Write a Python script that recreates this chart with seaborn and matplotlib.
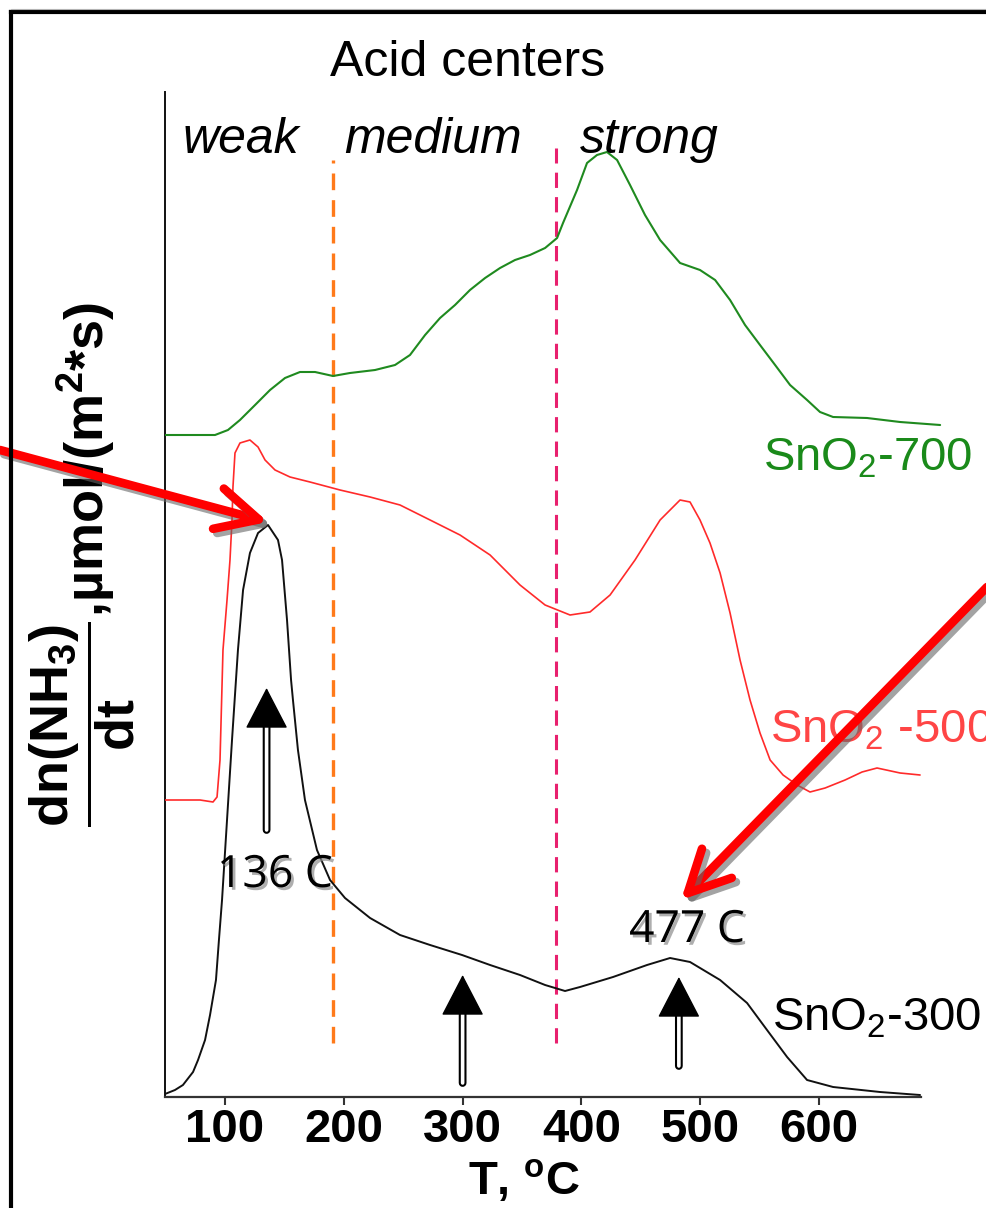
import numpy as np
import pandas as pd
import matplotlib
matplotlib.use("Agg")
import matplotlib.pyplot as plt
import seaborn as sns
from matplotlib import patheffects as pe
from matplotlib.lines import Line2D

# ---------------- data ----------------
# SnO2-300 (black)
t300 = [49.5, 57.9, 64.6, 73.1, 77.3, 83.2, 87.4, 92.4, 94.9, 97.5, 101.7, 105.9, 110.9,
        115.2, 121.0, 127.8, 136.2, 144.6, 148.0, 152.2, 155.6, 157.2, 161.4, 167.3, 177.4,
        188.4, 201.0, 222.1, 247.3, 272.6, 299.5, 323.1, 348.3, 369.4, 386.2, 398.8, 426.6,
        455.2, 474.6, 491.4, 516.7, 539.4, 556.2, 573.1, 589.9, 611.8, 651.3, 685.0]
s300 = [3, 7, 12, 25, 37, 57, 82, 117, 157, 197, 277, 357, 447,
        507, 544, 564, 572, 557, 537, 477, 417, 397, 347, 297, 247,
        217, 199, 179, 162, 152, 142, 132, 122, 112, 106, 110, 120,
        132, 139, 135, 117, 94, 67, 40, 17, 10, 5, 2]

# SnO2-500 (red)
t500 = [49.5, 79.0, 89.9, 93.3, 95.8, 98.3, 101.7, 104.2, 105.9, 106.7, 108.4, 112.6, 121.0,
        127.8, 133.7, 142.1, 154.7, 171.5, 196.8, 222.1, 247.3, 272.6, 297.8, 323.1, 348.3,
        369.4, 390.4, 407.2, 424.1, 445.1, 466.2, 483.0, 491.4, 499.8, 508.2, 516.7, 525.1,
        533.5, 541.9, 550.3, 558.8, 569.7, 581.5, 592.4, 605.1, 621.9, 636.2, 648.8, 668.2, 685.0]
s500 = [297, 297, 295, 300, 337, 447, 497, 537, 577, 610, 644, 654, 657,
        650, 637, 627, 620, 615, 607, 600, 592, 577, 562, 542, 512,
        492, 482, 485, 502, 537, 577, 597, 595, 577, 554, 524, 484,
        437, 397, 364, 337, 322, 312, 305, 309, 317, 325, 329, 324, 322]

# SnO2-700 (green)
t700 = [49.5, 91.6, 102.5, 112.6, 125.3, 137.9, 150.5, 163.1, 175.8, 190.9, 205.2, 226.3,
        243.1, 255.7, 268.4, 281.0, 293.6, 306.2, 318.9, 331.5, 344.1, 356.7, 369.4, 379.5,
        384.5, 396.3, 404.7, 413.1, 421.5, 430.0, 440.9, 453.5, 466.2, 483.0, 499.8, 512.5,
        525.1, 537.7, 550.3, 563.0, 575.6, 589.9, 600.8, 611.8, 640.4, 668.2, 701.9]
s700 = [662, 662, 667, 677, 692, 707, 719, 725, 725, 721, 724, 727,
        732, 742, 762, 779, 792, 807, 819, 829, 837, 842, 849, 859,
        874, 907, 934, 942, 945, 937, 912, 882, 857, 834, 827, 817,
        797, 772, 752, 732, 712, 697, 685, 680, 679, 675, 672]

sample_names = ["SnO2-300", "SnO2-500", "SnO2-700"]
sample_labels = ["SnO$_2$-300", "SnO$_2$ -500", "SnO$_2$-700"]
label_T = [560.5, 558.8, 552.9]
label_y = [67, 354, 627]

x_ticks = [100, 200, 300, 400, 500, 600]

region_names = ["weak", "medium", "strong"]
region_T = [113.5, 275.0, 457.0]
region_y = 944

boundary_T = [191, 379]
boundary_ymin = [54, 54]
boundary_ymax = [937, 949]

peak_labels = ["136 C", "477 C"]
peak_label_T = [93.3, 440.1]
peak_label_y = [210, 155]

arrow_T = [135.0, 300.0, 482.0]
arrow_tail = [267, 14, 31]
arrow_tip = [409, 122, 120]

red_arrow_tip_T = [136.2, 483.8]
red_arrow_tip_y = [575, 197]

# ---------------- style ----------------
sns.set_theme(style="ticks")
plt.rcParams["font.family"] = ["Liberation Sans", "DejaVu Sans"]
plt.rcParams["mathtext.default"] = "regular"
plt.rcParams["text.color"] = "black"
plt.rcParams["axes.labelcolor"] = "black"
plt.rcParams["xtick.color"] = "black"

fig = plt.figure(figsize=(9.87, 12.08), dpi=100)
fig.patch.set_facecolor("white")
ax = fig.add_axes([165 / 987, 111 / 1208, 780 / 987, 1005 / 1208])
ax.set_facecolor("white")

frames = []
for name, t, s in zip(sample_names, [t300, t500, t700], [s300, s500, s700]):
    frames.append(pd.DataFrame({"T": t, "signal": s, "sample": name}))
df = pd.concat(frames, ignore_index=True)

line_colors = {"SnO2-300": "#111111", "SnO2-500": "#ff2a2a", "SnO2-700": "#1f8a1f"}
line_widths = {"SnO2-300": 1.4, "SnO2-500": 1.2, "SnO2-700": 1.5}
label_colors = ["#000000", "#ff4545", "#1a8a1a"]

# dashed boundaries
ax.vlines(boundary_T[0], boundary_ymin[0], boundary_ymax[0], colors="#ff7a1a",
          linestyles=(0, (5, 3)), lw=2.4, zorder=1)
ax.vlines(boundary_T[1], boundary_ymin[1], boundary_ymax[1], colors="#e8206e",
          linestyles=(0, (5, 3)), lw=2.2, zorder=1)

for name in sample_names:
    sns.lineplot(data=df[df["sample"] == name], x="T", y="signal", color=line_colors[name],
                 lw=line_widths[name], ax=ax, estimator=None, sort=False, legend=False, zorder=3)

ax.set_xlim(49.5, 706)
ax.set_ylim(0, 1005)
ax.set_yticks([])
ax.set_xticks(x_ticks)
ax.set_xticklabels([str(v) for v in x_ticks], fontsize=34, fontweight="bold")
ax.tick_params(axis="x", direction="out", length=6, width=1.5, color="#333333",
               labelcolor="black", pad=2)
for side in ["top", "right"]:
    ax.spines[side].set_visible(False)
ax.spines["left"].set_color("#111111")
ax.spines["left"].set_linewidth(1.4)
ax.spines["bottom"].set_color("#333333")
ax.spines["bottom"].set_linewidth(1.6)
ax.spines["bottom"].set_bounds(49.5, 686)

ax.set_xlabel(r"T, $^o$C", fontsize=34, fontweight="bold", color="black")
ax.xaxis.set_label_coords(0.46, -0.0975)
ax.xaxis.label.set_va("baseline")

ax.set_ylabel(r"$\dfrac{dn(NH_3)}{dt}$,µmol/(m$^2$*s)", fontsize=39, fontweight="bold",
              color="black")
ax.yaxis.set_label_coords(-0.107, 0.53)
ax.yaxis.label.set_va("center")

ax.text(0.388, 1.016, "Acid centers", transform=ax.transAxes, fontsize=36,
        ha="center", va="baseline", color="black")
for name, t in zip(region_names, region_T):
    ax.text(t, region_y, name, fontsize=36, style="italic", ha="center", va="baseline",
            color="black")

for lab, t, y, c in zip(sample_labels, label_T, label_y, label_colors):
    ax.text(t, y, lab, fontsize=34, color=c, ha="left", va="baseline", zorder=4)

shadow_txt = [pe.SimplePatchShadow(offset=(2, -2), shadow_rgbFace="0.55", alpha=0.7), pe.Normal()]
for lab, t, y in zip(peak_labels, peak_label_T, peak_label_y):
    ax.text(t, y, lab, fontsize=32, family=["Open Sans", "DejaVu Sans"], ha="left",
            va="baseline", path_effects=shadow_txt, zorder=5, color="black")

# double-shaft arrows
for t, y0, y1 in zip(arrow_T, arrow_tail, arrow_tip):
    ybase = y1 - 30
    ax.annotate("", xy=(t, ybase), xytext=(t, y0),
                arrowprops=dict(arrowstyle="-", lw=5.6, color="black", shrinkA=0, shrinkB=0))
    ax.annotate("", xy=(t, ybase), xytext=(t, y0),
                arrowprops=dict(arrowstyle="-", lw=2.6, color="white", shrinkA=0, shrinkB=0))
    ax.annotate("", xy=(t, y1), xytext=(t, y1 - 38),
                arrowprops=dict(arrowstyle="-|>,head_length=2.7,head_width=1.4", lw=1,
                                color="black", shrinkA=0, shrinkB=0, mutation_scale=10))

# big red arrows with shadow
red_pe = [pe.SimpleLineShadow(offset=(3, -3), shadow_color="0.4", alpha=0.6), pe.Normal()]
red_tails = [(0.0, 1 - 450 / 1208), (1.0, 1 - 587 / 1208)]
for (tx, ty), t, y in zip(red_tails, red_arrow_tip_T, red_arrow_tip_y):
    ax.annotate("", xy=(t, y), xycoords="data", xytext=(tx, ty), textcoords="figure fraction",
                arrowprops=dict(arrowstyle="->,head_length=3.0,head_width=1.5", lw=6.2,
                                color="#ff0000", shrinkA=0, shrinkB=0, mutation_scale=10,
                                path_effects=red_pe),
                annotation_clip=False, zorder=6)

# slide frame
fx, fy = 11 / 987, 1 - 12 / 1208
fig.add_artist(Line2D([fx, fx], [0, fy], transform=fig.transFigure, color="black", lw=3,
                      solid_capstyle="projecting"))
fig.add_artist(Line2D([fx, 1], [fy, fy], transform=fig.transFigure, color="black", lw=3,
                      solid_capstyle="projecting"))
fig.add_artist(Line2D([fx, 1], [1 - 8.5 / 1208, 1 - 8.5 / 1208], transform=fig.transFigure,
                      color="0.7", lw=0.8))

fig.savefig("out.png", dpi=100)
